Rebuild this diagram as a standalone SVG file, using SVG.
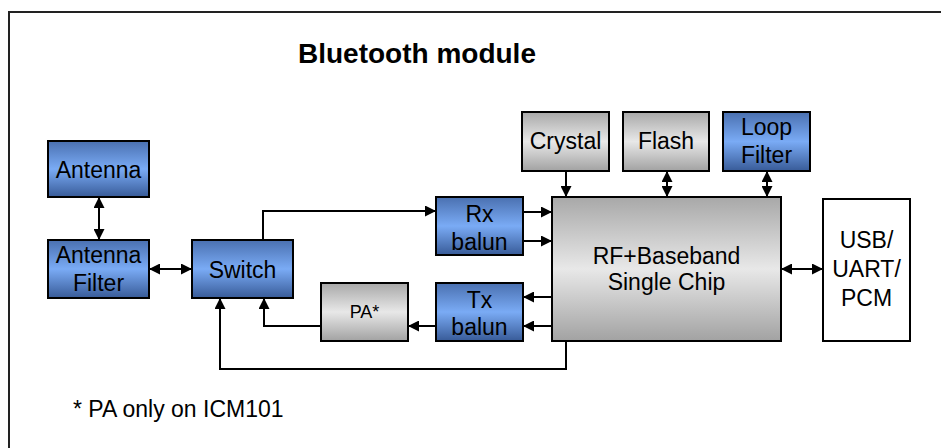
<svg xmlns="http://www.w3.org/2000/svg" width="941" height="448" viewBox="0 0 941 448">
<defs>
<linearGradient id="gBlue" x1="0" y1="0" x2="0" y2="1">
<stop offset="0" stop-color="#4a70b0"/>
<stop offset="0.5" stop-color="#7aabf5"/>
<stop offset="1" stop-color="#385b98"/>
</linearGradient>
<linearGradient id="gGray" x1="0" y1="0" x2="0" y2="1">
<stop offset="0" stop-color="#a8a8a8"/>
<stop offset="0.5" stop-color="#e8e8e8"/>
<stop offset="1" stop-color="#a2a2a2"/>
</linearGradient>
<marker id="arr" viewBox="0 0 10 10" refX="10" refY="5" markerWidth="11" markerHeight="11" markerUnits="userSpaceOnUse" orient="auto-start-reverse">
<path d="M0,0 L10,5 L0,10 z" fill="#000"/>
</marker>
<style>
.blue{fill:url(#gBlue);stroke:#000;stroke-width:2}
.gray{fill:url(#gGray);stroke:#000;stroke-width:2}
.white{fill:#fff;stroke:#000;stroke-width:2}
text{font-family:"Liberation Sans",Arial,sans-serif;font-size:23px;fill:#000;text-anchor:middle}
.title{font-size:28px;font-weight:bold;text-anchor:start}
.note{text-anchor:start}
.small{font-size:18px}
.c{fill:none;stroke:#000;stroke-width:2}
.e{marker-end:url(#arr)}
.b{marker-start:url(#arr);marker-end:url(#arr)}
</style>
</defs>
<rect x="0" y="0" width="941" height="448" fill="#fff"/>
<rect x="9" y="12" width="940" height="445" fill="none" stroke="#222" stroke-width="2"/>
<text class="title" x="298" y="63">Bluetooth module</text>
<text class="note" x="73" y="417">* PA only on ICM101</text>

<g id="connectors">
<path class="c b" d="M99,197 V240"/>
<path class="c b" d="M149,269 H192"/>
<path class="c e" d="M263,240 V211 H436"/>
<path class="c e" d="M523,212 H552"/>
<path class="c e" d="M523,241 H552"/>
<path class="c e" d="M552,297 H523"/>
<path class="c e" d="M552,326 H523"/>
<path class="c e" d="M436,326 H408"/>
<path class="c e" d="M321,326 H264 V298"/>
<path class="c e" d="M566,341 V369 H220 V298"/>
<path class="c e" d="M566,171 V197"/>
<path class="c b" d="M667,171 V197"/>
<path class="c b" d="M767,171 V197"/>
<path class="c b" d="M781,269 H823"/>
</g>

<g id="antenna"><rect class="blue" x="48" y="141" width="101" height="56"/><text x="98.5" y="178">Antenna</text></g>
<g id="antenna-filter"><rect class="blue" x="48" y="240" width="101" height="58"/><text x="98.5" y="263">Antenna</text><text x="98.5" y="291">Filter</text></g>
<g id="switch"><rect class="blue" x="192" y="240" width="101" height="58"/><text x="242.5" y="278">Switch</text></g>
<g id="rx-balun"><rect class="blue" x="436" y="197" width="87" height="58"/><text x="479.5" y="222">Rx</text><text x="479.5" y="250">balun</text></g>
<g id="tx-balun"><rect class="blue" x="436" y="283" width="87" height="58"/><text x="479.5" y="308">Tx</text><text x="479.5" y="335">balun</text></g>
<g id="pa"><rect class="gray" x="321" y="283" width="87" height="58"/><text class="small" x="364.5" y="318">PA*</text></g>
<g id="crystal"><rect class="gray" x="522" y="112" width="87" height="59"/><text x="565.5" y="149">Crystal</text></g>
<g id="flash"><rect class="gray" x="623" y="112" width="86" height="59"/><text x="666" y="149">Flash</text></g>
<g id="loop-filter"><rect class="blue" x="723" y="112" width="87" height="59"/><text x="766.5" y="135">Loop</text><text x="766.5" y="163">Filter</text></g>
<g id="chip"><rect class="gray" x="552" y="197" width="229" height="144"/><text x="666.5" y="264">RF+Baseband</text><text x="666.5" y="290">Single Chip</text></g>
<g id="usb"><rect class="white" x="823" y="199" width="87" height="142"/><text x="866.5" y="248">USB/</text><text x="866.5" y="277">UART/</text><text x="866.5" y="306">PCM</text></g>
</svg>
